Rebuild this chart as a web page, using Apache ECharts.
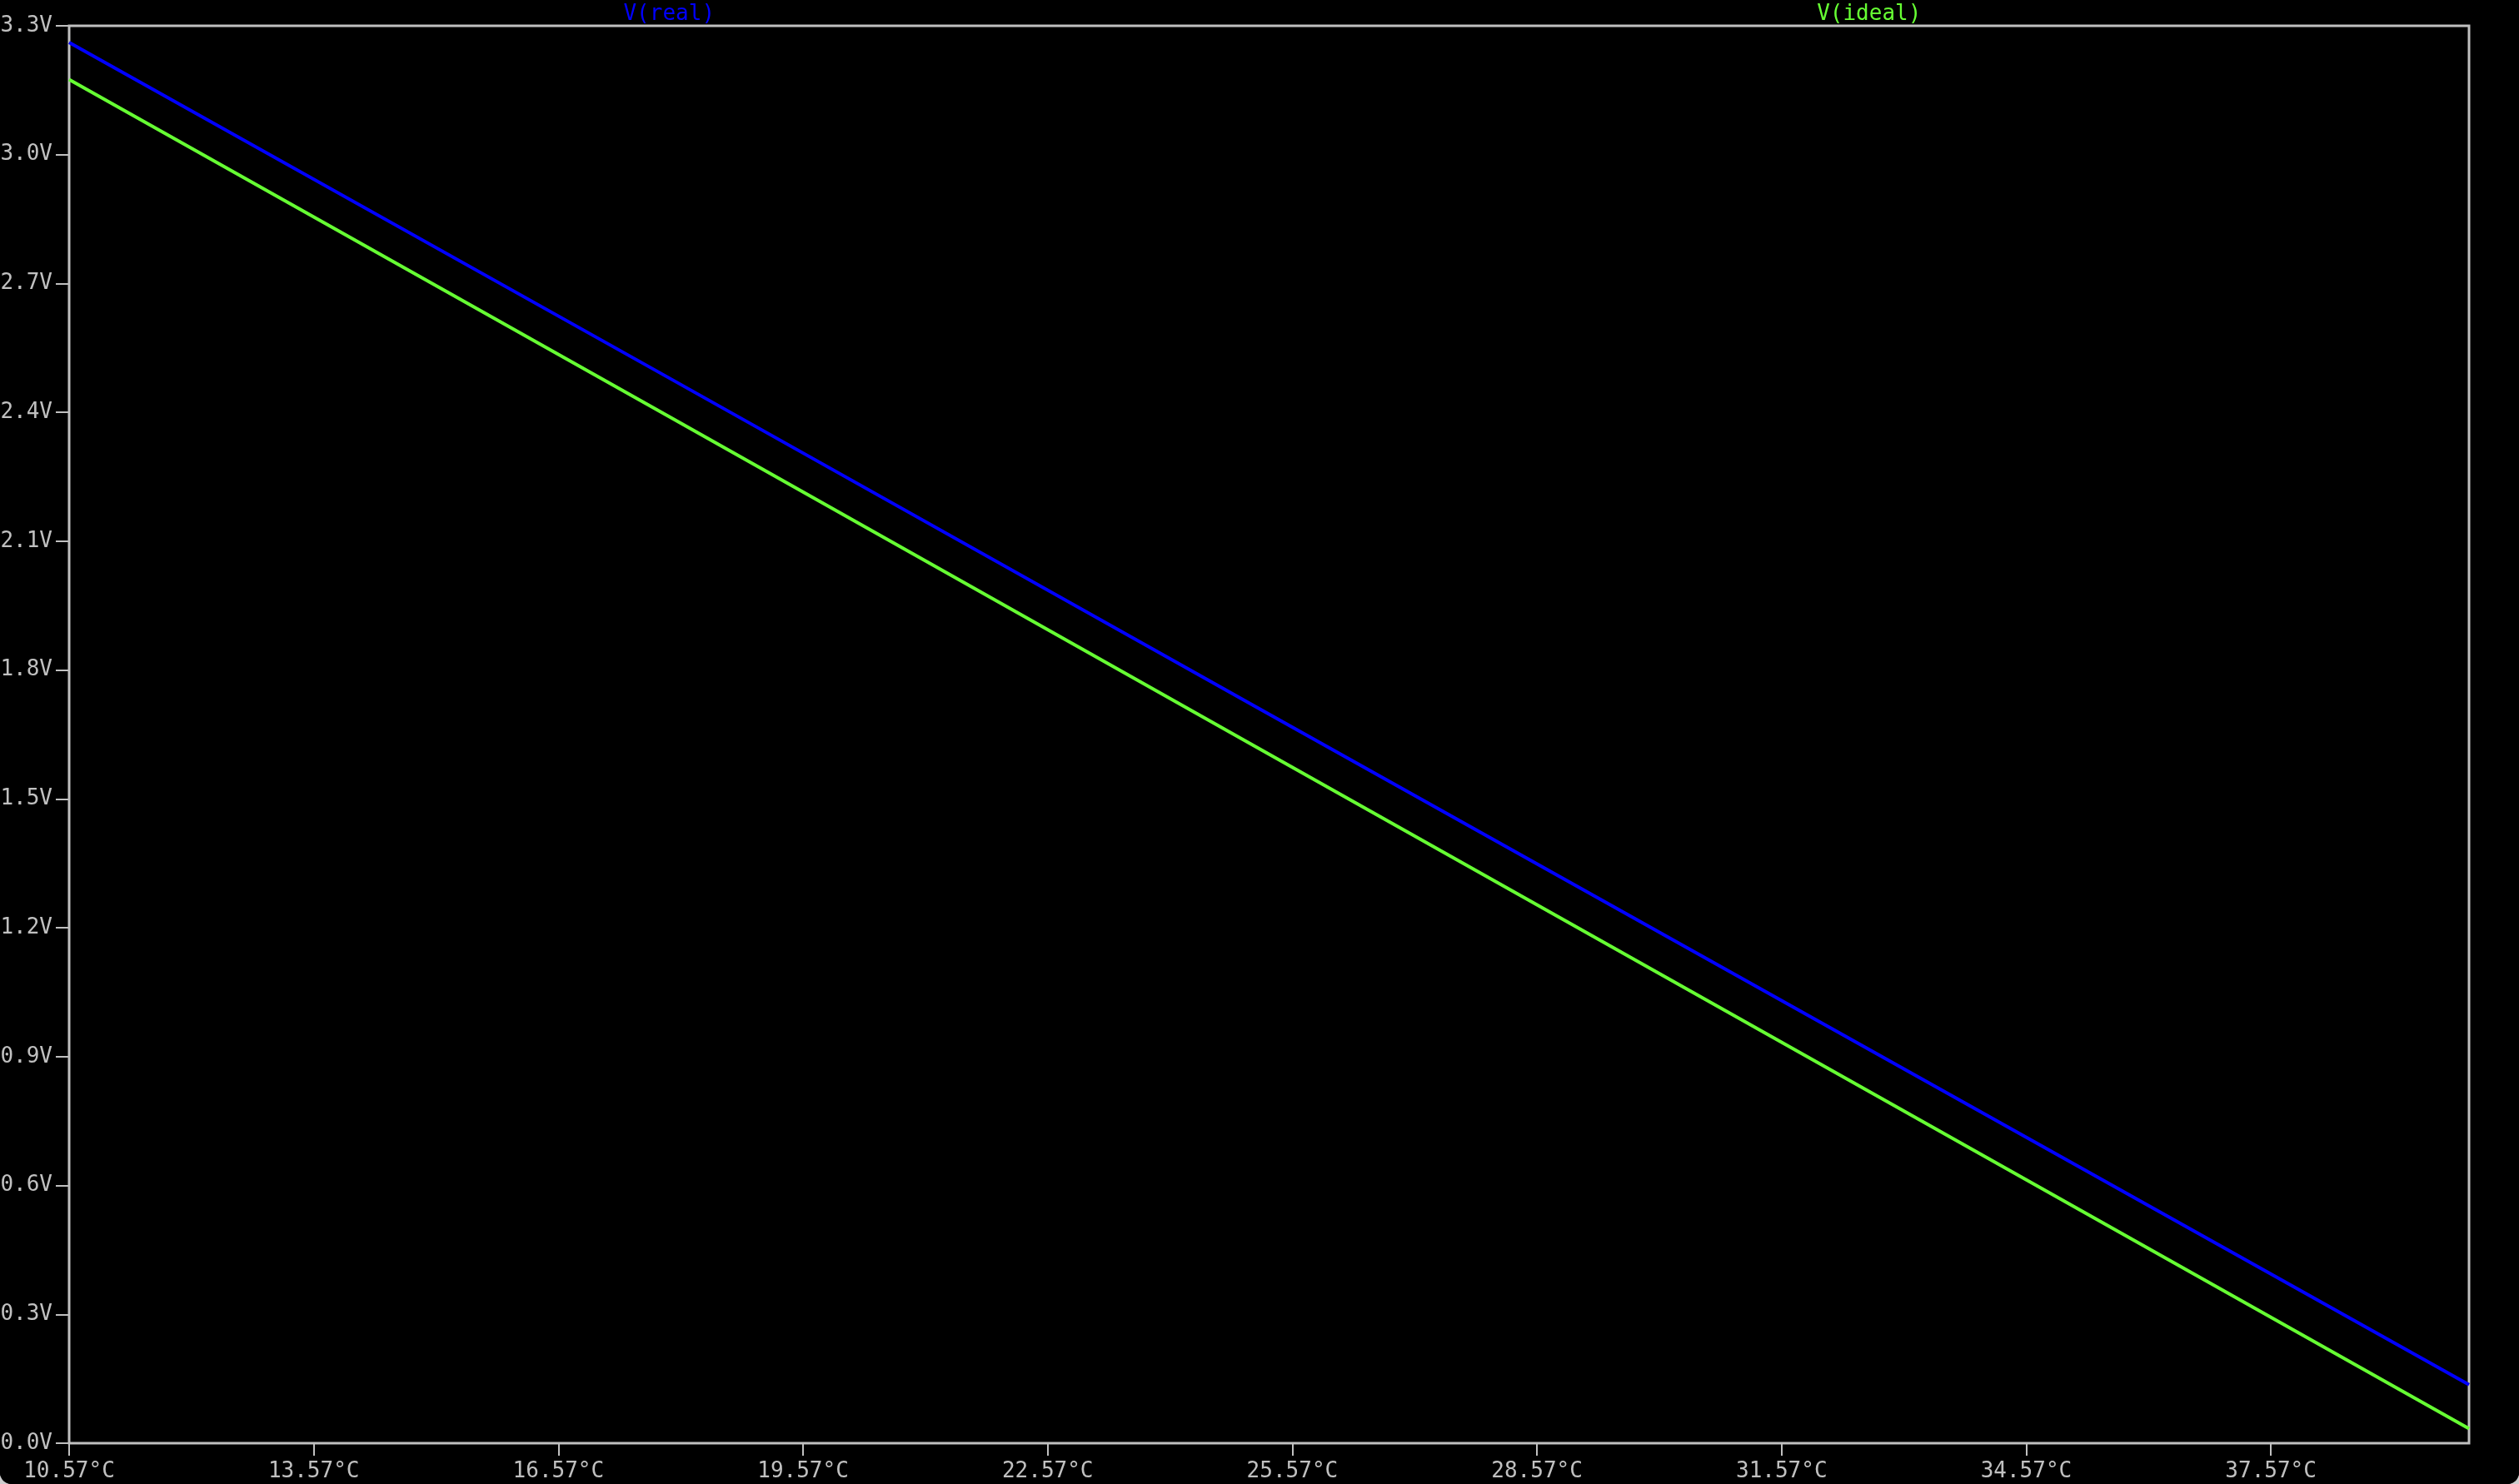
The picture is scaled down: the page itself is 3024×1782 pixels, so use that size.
<!DOCTYPE html>
<html>
<head>
<meta charset="utf-8">
<script src="https://cdn.jsdelivr.net/npm/echarts@6/dist/echarts.min.js"></script>
<style>
  html, body { margin: 0; padding: 0; background: #cdcdcd; }
  #frame { width: 3024px; height: 1782px; background: #000; border-bottom-left-radius: 14px; border-bottom-right-radius: 14px; overflow: hidden; }
  #chart { width: 3024px; height: 1782px; }
</style>
</head>
<body>
<div id="frame"><div id="chart"></div></div>
<script>
// Temperature (°C) sample points
const temps = [10.57, 17.90, 25.05, 40.00];
// V(real) in volts
const vReal = [3.261, 2.483, 1.722, 0.136];
// V(ideal) in volts
const vIdeal = [3.175, 2.393, 1.629, 0.034];
// X tick values
const xTicks = [10.57, 13.57, 16.57, 19.57, 22.57, 25.57, 28.57, 31.57, 34.57, 37.57];
const xMin = 10.57, xMax = 40.00;
const yMin = 0, yMax = 3.3, yStep = 0.3;
const seriesNames = ['V(real)', 'V(ideal)'];
const seriesColors = ['#0000ff', '#66ff33'];

const gray = '#c0c0c0';
const font = '"DejaVu Sans Mono", monospace';
const G = { left: 83, top: 31, right: 60, bottom: 49 };
const W = 3024;
const plotW = W - G.left - G.right;

const chart = echarts.init(document.getElementById('chart'), null, { renderer: 'canvas' });

const option = {
  backgroundColor: '#000',
  animation: false,
  grid: { left: G.left, top: G.top, right: G.right, bottom: G.bottom, containLabel: false, outerBoundsMode: 'none',
    show: true, borderColor: gray, borderWidth: 3, backgroundColor: 'transparent' },
  xAxis: {
    type: 'value', min: xMin, max: xMax,
    axisLine: { show: false },
    splitLine: { show: false },
    axisTick: { show: true, length: 15, inside: false, customValues: xTicks, lineStyle: { color: gray, width: 2 } },
    axisLabel: { show: true, customValues: xTicks, margin: 21, color: gray, fontFamily: font, fontSize: 26,
      formatter: v => v.toFixed(2) + '°C' }
  },
  yAxis: {
    type: 'value', min: yMin, max: yMax, interval: yStep,
    axisLine: { show: false },
    splitLine: { show: false },
    axisTick: { show: true, length: 16, inside: false, lineStyle: { color: gray, width: 2 } },
    axisLabel: { show: true, margin: 20, color: gray, fontFamily: font, fontSize: 26,
      formatter: v => v.toFixed(1) + 'V' }
  },
  series: [
    { name: seriesNames[0], type: 'line', data: temps.map((t, i) => [t, vReal[i]]), showSymbol: false, symbol: 'none',
      lineStyle: { color: seriesColors[0], width: 4 }, itemStyle: { color: seriesColors[0] }, z: 3 },
    { name: seriesNames[1], type: 'line', data: temps.map((t, i) => [t, vIdeal[i]]), showSymbol: false, symbol: 'none',
      lineStyle: { color: seriesColors[1], width: 4 }, itemStyle: { color: seriesColors[1] }, z: 2 }
  ],
  graphic: seriesNames.map((n, i) => ({
    type: 'text',
    x: G.left + plotW * (i === 0 ? 0.25 : 0.75),
    y: 17,
    style: { text: n, fill: seriesColors[i], font: '26px ' + font, textAlign: 'center', textVerticalAlign: 'middle' }
  }))
};
chart.setOption(option);
</script>
</body>
</html>
